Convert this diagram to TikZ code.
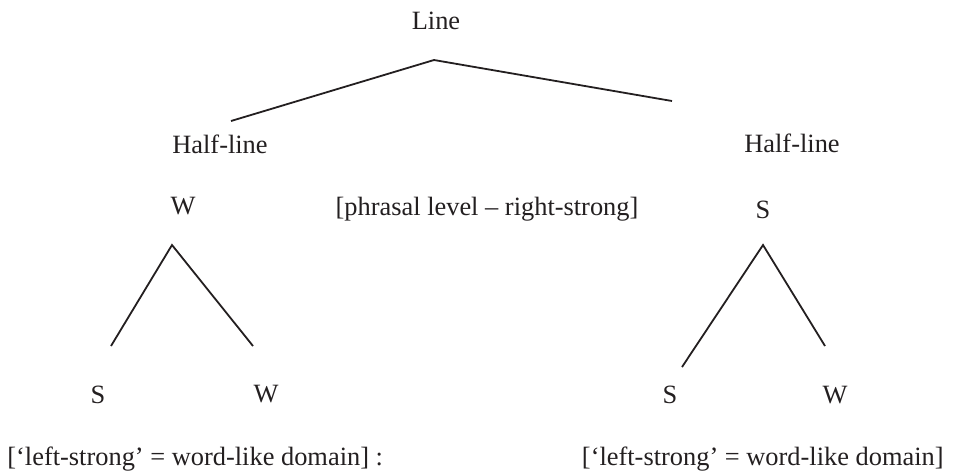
\documentclass[tikz,border=0pt]{standalone}
\usepackage{fontspec}
\setmainfont{Liberation Serif}
\definecolor{ink}{HTML}{231F20}
\begin{document}
\begin{tikzpicture}[x=0.5pt,y=-0.5pt,
  lbl/.style={inner sep=0pt,anchor=base,text=ink,font=\fontsize{13.2}{15}\selectfont},
  edge/.style={draw=ink,line width=0.9pt}]
\useasboundingbox (0,0) rectangle (962,473);
% labels
\node[lbl] (line) at (436,29) {Line};
\node[lbl] (hl) at (220,153) {Half-line};
\node[lbl] (hr) at (792,152) {Half-line};
\node[lbl] (wl) at (183,214) {W};
\node[lbl] (phr) at (487,215) {[phrasal level -- right-strong]};
\node[lbl] (sr) at (763,218) {S};
\node[lbl] (sll) at (98,403) {S};
\node[lbl] (wll) at (266,402) {W};
\node[lbl] (srl) at (670,403) {S};
\node[lbl] (wrr) at (835,403) {W};
\node[lbl,anchor=base west] (bl) at (7,465) {[`left-strong' = word-like domain] :};
\node[lbl,anchor=base east] (br) at (944,465) {[`left-strong' = word-like domain]};
% line end points
\coordinate (top) at (434,60);
\coordinate (topL) at (231,121);
\coordinate (topR) at (672,101);
\coordinate (la) at (172,245);
\coordinate (laL) at (111,346);
\coordinate (laR) at (253,346);
\coordinate (ra) at (763,245);
\coordinate (raL) at (682,367);
\coordinate (raR) at (825,346);
% connectors
\draw[edge] (topL) -- (top) -- (topR);
\draw[edge] (laL) -- (la) -- (laR);
\draw[edge] (raL) -- (ra) -- (raR);
\end{tikzpicture}
\end{document}
